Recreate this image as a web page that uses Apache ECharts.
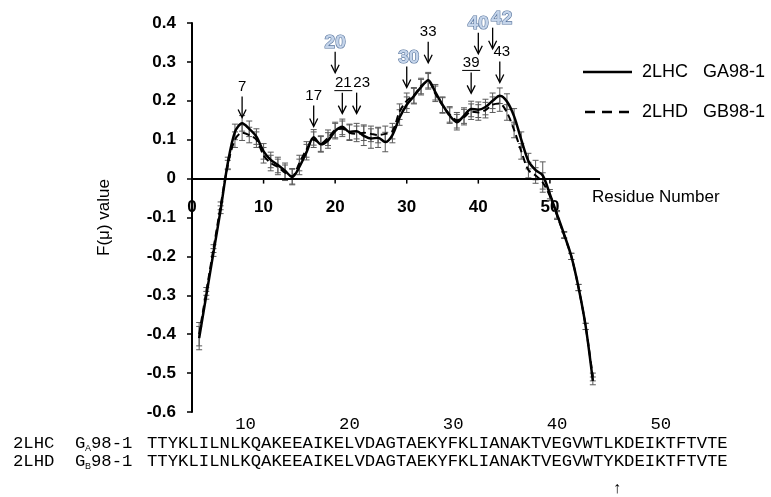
<!DOCTYPE html>
<html>
<head>
<meta charset="utf-8">
<script src="https://cdn.jsdelivr.net/npm/echarts@6/dist/echarts.min.js"></script>
<style>
html,body{margin:0;padding:0;background:#fff}
#main{width:771px;height:497px}
</style>
</head>
<body>
<div id="main"></div>
<script>
// residue numbers 1..56
var residues = [1,2,3,4,5,6,7,8,9,10,11,12,13,14,15,16,17,18,19,20,21,22,23,24,25,26,27,28,29,30,
  31,32,33,34,35,36,37,38,39,40,41,42,43,44,45,46,47,48,49,50,51,52,53,54,55,56];
// F(mu) for 2LHC GA98-1 (solid)
var fA = [-0.41,-0.30,-0.19,-0.08,0.04,0.12,0.142,0.128,0.108,0.07,
  0.048,0.035,0.02,0.004,0.03,0.068,0.106,0.088,0.098,0.122,
  0.133,0.12,0.122,0.11,0.103,0.105,0.094,0.112,0.157,0.19,
  0.212,0.235,0.253,0.222,0.19,0.162,0.145,0.162,0.179,0.177,
  0.184,0.2,0.213,0.198,0.16,0.10,0.045,0.022,0.008,-0.04,
  -0.092,-0.144,-0.20,-0.28,-0.38,-0.52];
// F(mu) for 2LHD GB98-1 (dashed)
var fB = [-0.40,-0.29,-0.18,-0.07,0.035,0.10,0.118,0.112,0.10,0.06,
  0.04,0.03,0.015,0.006,0.04,0.075,0.10,0.09,0.105,0.125,
  0.128,0.118,0.115,0.118,0.115,0.112,0.115,0.122,0.172,0.20,
  0.214,0.238,0.25,0.218,0.188,0.165,0.15,0.158,0.172,0.17,
  0.176,0.19,0.193,0.17,0.125,0.07,0.022,0.008,-0.01,-0.045,
  -0.095,-0.146,-0.20,-0.28,-0.38,-0.51];
var errA = [0.03,0.01,0.01,0.01,0.015,0.02,0.02,0.02,0.02,0.02,
  0.02,0.02,0.02,0.02,0.02,0.02,0.02,0.02,0.02,0.02,
  0.02,0.02,0.02,0.025,0.025,0.025,0.025,0.02,0.02,0.02,
  0.02,0.02,0.02,0.02,0.02,0.02,0.02,0.02,0.02,0.02,
  0.02,0.02,0.02,0.02,0.02,0.02,0.02,0.025,0.035,0.012,
  0.01,0.008,0.008,0.008,0.008,0.01];
var errB = [0.03,0.01,0.01,0.01,0.012,0.02,0.02,0.02,0.02,0.02,
  0.02,0.02,0.02,0.02,0.02,0.02,0.02,0.02,0.02,0.02,
  0.02,0.02,0.02,0.02,0.02,0.02,0.02,0.02,0.02,0.02,
  0.02,0.02,0.02,0.02,0.02,0.02,0.02,0.02,0.02,0.02,
  0.02,0.02,0.02,0.02,0.02,0.02,0.02,0.02,0.025,0.012,
  0.01,0.008,0.008,0.008,0.008,0.01];
var xTicks = [0,10,20,30,40,50];
var xMax = 57;
var seriesNames = ['2LHC   GA98-1','2LHD   GB98-1'];

// arrows over the curve
var markResidue = [7,17,20,21,23,30,33,39,40,42,43];
var markLabel = ['7','17','20','21','23','30','33','39','40','42','43'];
var markKind = ['plain','plain','blue','under','plain','blue','plain','under','blue','blue','plain'];
var markTip = [0.157,0.134,0.272,0.167,0.167,0.234,0.298,0.219,0.321,0.334,0.247];
var markShift = [0,0,0,1,5,2,0,0,0,9,2];

// sequence block under the chart
var seqA = 'TTYKLILNLKQAKEEAIKELVDAGTAEKYFKLIANAKTVEGVWTLKDEIKTFTVTE';
var seqB = 'TTYKLILNLKQAKEEAIKELVDAGTAEKYFKLIANAKTVEGVWTYKDEIKTFTVTE';
var seqTicks = [10,20,30,40,50];

var sansFont = '"Liberation Sans", Arial, sans-serif';
var monoFont = '"Liberation Mono", "Courier New", monospace';
var monoSize = 17.3, charW = monoSize * 0.6, seqLeft = 147;
var gridTop = 23, gridH = 389, yMin = -0.6, yMax = 0.4;

var myChart = echarts.init(document.getElementById('main'));

function errData(vals, errs) {
  return residues.map(function (r, i) { return [r, vals[i] - errs[i], vals[i] + errs[i]]; });
}

function drawErr(params, api) {
  var x = api.value(0);
  var lo = api.coord([x, api.value(1)]);
  var hi = api.coord([x, api.value(2)]);
  var st = {stroke: '#5a5a5a', lineWidth: 1};
  return {type: 'group', children: [
    {type: 'line', shape: {x1: lo[0], y1: lo[1], x2: hi[0], y2: hi[1]}, style: st},
    {type: 'line', shape: {x1: lo[0] - 3, y1: lo[1], x2: lo[0] + 3, y2: lo[1]}, style: st},
    {type: 'line', shape: {x1: hi[0] - 3, y1: hi[1], x2: hi[0] + 3, y2: hi[1]}, style: st}
  ]};
}

// ticks of the x axis, hanging under y = 0
function drawZeroTick(params, api) {
  var p = api.coord([api.value(0), api.value(1)]);
  return {type: 'line', shape: {x1: p[0], y1: p[1], x2: p[0], y2: p[1] + 5}, style: {stroke: '#000', lineWidth: 1.5}};
}

function drawMark(params, api) {
  var i = params.dataIndex;
  var tip = api.coord([api.value(0), api.value(1)]);
  var x = tip[0], y = tip[1];
  var blue = markKind[i] == 'blue';
  var lx = x + markShift[i];
  var ly = y - (blue ? 30 : 31);
  var kids = [
    {type: 'line', shape: {x1: x, y1: y - 21, x2: x, y2: y - 1}, style: {stroke: '#000', lineWidth: 1.3}},
    {type: 'polyline', shape: {points: [[x - 4, y - 8], [x, y], [x + 4, y - 8]]}, style: {stroke: '#000', lineWidth: 1.3, fill: 'none'}},
    {type: 'text', x: lx, y: ly, style: {
      text: markLabel[i], align: 'center', verticalAlign: 'middle',
      fontFamily: sansFont, fontSize: blue ? 19 : 15, fontWeight: blue ? 'bold' : 'normal',
      fill: blue ? '#c4d4ea' : '#000', stroke: blue ? '#56739c' : null, lineWidth: blue ? 1.2 : 0
    }}
  ];
  if (markKind[i] == 'under') {
    kids.push({type: 'line', shape: {x1: lx - 9, y1: ly + 8, x2: lx + 9, y2: ly + 8}, style: {stroke: '#000', lineWidth: 1}});
  }
  return {type: 'group', children: kids};
}

function seqRow(y, name, sub, seq) {
  return [
    {type: 'text', left: 13, top: y - 10, style: {text: name, font: monoSize + 'px ' + monoFont, fill: '#000'}},
    {type: 'text', left: 75, top: y - 10, style: {text: 'G', font: monoSize + 'px ' + monoFont, fill: '#000'}},
    {type: 'text', left: 85, top: y - 1, style: {text: sub, font: '9px ' + sansFont, fill: '#000'}},
    {type: 'text', left: 91, top: y - 10, style: {text: '98-1', font: monoSize + 'px ' + monoFont, fill: '#000'}},
    {type: 'text', left: seqLeft, top: y - 10, style: {text: seq, font: monoSize + 'px ' + monoFont, fill: '#000'}}
  ];
}

// legend drawn by hand (line samples only, no symbols)
function legendRow(y, name, dash) {
  return [
    {type: 'line', shape: {x1: dash ? 585 : 583, y1: y, x2: dash ? 630 : 632, y2: y},
      style: {stroke: '#000', lineWidth: 2.5, lineDash: dash ? [10, 7] : null}},
    {type: 'text', x: 642, y: y, style: {text: name, font: '18px ' + sansFont, fill: '#000', verticalAlign: 'middle'}}
  ];
}

var graphics = [
  {type: 'text', left: 592, top: 189, style: {text: 'Residue Number', font: '17px ' + sansFont, fill: '#000'}},
  {type: 'text', x: 617, y: 489, style: {text: '\u2191', font: '16px ' + sansFont, fill: '#000', align: 'center', verticalAlign: 'middle'}}
];
seqTicks.forEach(function (n) {
  graphics.push({type: 'text', x: seqLeft + (n - 0.5) * charW, y: 424,
    style: {text: String(n), font: monoSize + 'px ' + monoFont, fill: '#000', align: 'center', verticalAlign: 'middle'}});
});
graphics = graphics.concat(seqRow(445, '2LHC', 'A', seqA), seqRow(463, '2LHD', 'B', seqB),
  legendRow(72, seriesNames[0], false), legendRow(112, seriesNames[1], true));

// x axis labels sit on y = 0: shift the axis up from the grid bottom
var zeroOffset = -(gridH * (0 - yMin) / (yMax - yMin));

myChart.setOption({
  animation: false,
  backgroundColor: '#fff',
  grid: {left: 192, top: gridTop, width: 408, height: gridH},
  xAxis: {
    type: 'value', min: 0, max: xMax, interval: 10, position: 'bottom', offset: zeroOffset,
    axisLine: {show: false, onZero: false},
    axisTick: {show: false},
    axisLabel: {margin: 20, color: '#000', fontFamily: sansFont, fontSize: 17, fontWeight: 'bold', customValues: xTicks},
    splitLine: {show: false}
  },
  yAxis: {
    type: 'value', min: yMin, max: yMax, interval: 0.1,
    name: 'F(\u03bc) value', nameLocation: 'middle', nameRotate: 90, nameGap: 79, nameMoveOverlap: false,
    nameTextStyle: {fontFamily: sansFont, fontSize: 17, color: '#000'},
    axisLine: {show: true, lineStyle: {color: '#000', width: 2}},
    axisTick: {show: true, length: 5, lineStyle: {color: '#000', width: 1.5}},
    axisLabel: {margin: 16, color: '#000', fontFamily: sansFont, fontSize: 17, fontWeight: 'bold'},
    splitLine: {show: false}
  },
  series: [
    {type: 'custom', name: 'zeroTicks', renderItem: drawZeroTick, data: xTicks.map(function (t) { return [t, 0]; }),
      encode: {x: 0, y: 1}, z: 1, silent: true},
    {type: 'custom', name: 'errA', renderItem: drawErr, data: errData(fA, errA), encode: {x: 0, y: [1, 2]}, z: 2, silent: true},
    {type: 'custom', name: 'errB', renderItem: drawErr, data: errData(fB, errB), encode: {x: 0, y: [1, 2]}, z: 2, silent: true},
    {type: 'line', name: seriesNames[0], data: residues.map(function (r, i) { return [r, fA[i]]; }),
      smooth: 0.3, symbol: 'none', lineStyle: {color: '#000', width: 2.5}, z: 3,
      markLine: {
        silent: true, symbol: 'none', animation: false,
        label: {show: false},
        lineStyle: {color: '#000', width: 2, type: 'solid'},
        data: [[{coord: [0, 0]}, {coord: [xMax, 0]}]]
      }},
    {type: 'line', name: seriesNames[1], data: residues.map(function (r, i) { return [r, fB[i]]; }),
      smooth: 0.3, symbol: 'none', lineStyle: {color: '#000', width: 2, type: [7, 4]}, z: 3},
    {type: 'custom', name: 'marks', renderItem: drawMark, data: markResidue.map(function (r, i) { return [r, markTip[i]]; }),
      encode: {x: 0, y: 1}, z: 5, silent: true}
  ],
  graphic: graphics
});
</script>
</body>
</html>
